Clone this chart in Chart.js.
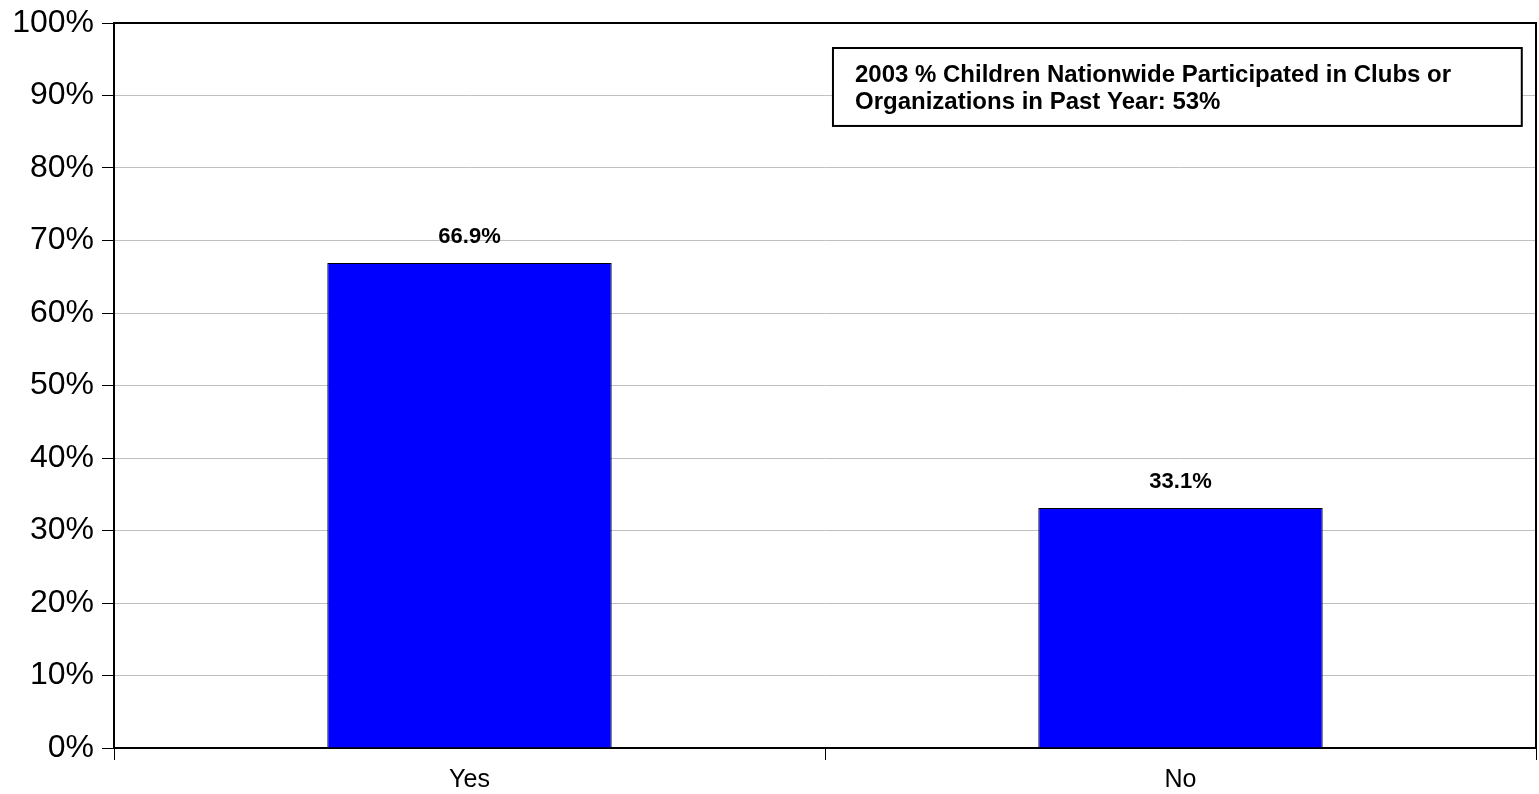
<!DOCTYPE html>
<html>
<head>
<meta charset="utf-8">
<script src="https://cdn.jsdelivr.net/npm/chart.js@4.4.0/dist/chart.umd.min.js"></script>
<style>
    html, body { margin: 0; padding: 0; background: #fff; }
    #caixa { width: 1539px; height: 794px; }
</style>
</head>
<body>
<div id="caixa"><canvas id="grafico"></canvas></div>
<script>
// dados
const categorias = ["Yes", "No"];
const valores = [66.9, 33.1];
const rotulos = ["66.9%", "33.1%"];
const notaLinhas = ["2003 % Children Nationwide Participated in Clubs or", "Organizations in Past Year: 53%"];

const fonte = "'Liberation Sans', Arial, sans-serif";

// rótulos acima das barras + caixa de nota + borda da área
const extras = {
    id: "extras",
    afterDatasetsDraw(chart) {
        const ctx = chart.ctx;
        const area = chart.chartArea;
        const barras = chart.getDatasetMeta(0).data;

        ctx.save();
        ctx.fillStyle = "#000";
        ctx.font = "bold 22px " + fonte;
        ctx.textAlign = "center";
        ctx.textBaseline = "bottom";
        barras.forEach((barra, i) => {
            ctx.fillText(rotulos[i], barra.x, barra.y - 15);
        });

        // borda superior e direita
        ctx.strokeStyle = "#000";
        ctx.lineWidth = 2;
        ctx.beginPath();
        ctx.moveTo(area.left, area.top);
        ctx.lineTo(area.right, area.top);
        ctx.lineTo(area.right, area.bottom);
        ctx.stroke();

        // caixa da nota
        const w = area.right - area.left;
        const h = area.bottom - area.top;
        const x0 = area.left + w * 0.5056;
        const x1 = area.left + w * 0.990;
        const y0 = area.top + h * 0.0345;
        const y1 = area.top + h * 0.142;
        ctx.fillStyle = "#fff";
        ctx.fillRect(x0, y0, x1 - x0, y1 - y0);
        ctx.lineWidth = 2;
        ctx.strokeRect(x0, y0, x1 - x0, y1 - y0);

        ctx.fillStyle = "#000";
        ctx.textAlign = "left";
        ctx.textBaseline = "alphabetic";
        ctx.font = "bold 24px " + fonte;
        ctx.fillText(notaLinhas[0], x0 + 22, y0 + 34);
        ctx.fillText(notaLinhas[1], x0 + 22, y0 + 61);
        ctx.restore();
    }
};

const config = {
    type: "bar",
    data: {
        labels: categorias,
        datasets: [{
            data: valores,
            backgroundColor: "#0000ff",
            borderColor: "#000",
            borderWidth: 1,
            categoryPercentage: 1,
            barPercentage: 0.4
        }]
    },
    options: {
        responsive: true,
        maintainAspectRatio: false,
        animation: false,
        layout: { padding: { top: 23, right: 3, left: 0, bottom: 0 } },
        plugins: {
            legend: { display: false },
            tooltip: { enabled: false }
        },
        scales: {
            x: {
                grid: {
                    drawOnChartArea: false,
                    drawTicks: true,
                    tickLength: 12,
                    tickColor: "#000",
                    tickWidth: 1
                },
                border: { color: "#000", width: 2 },
                ticks: {
                    color: "#000",
                    font: { family: fonte, size: 25 },
                    padding: 5
                },
                afterFit(scale) { scale.height = 46; }
            },
            y: {
                min: 0,
                max: 100,
                ticks: {
                    stepSize: 10,
                    color: "#000",
                    padding: 8,
                    font: { family: fonte, size: 32 },
                    callback: (v) => v + "%"
                },
                grid: {
                    color: (c) => (c.tick && c.tick.value === 100) ? "#000" : "#c0c0c0",
                    lineWidth: 1,
                    tickLength: 12,
                    tickColor: "#000",
                    tickWidth: 1
                },
                border: { color: "#000", width: 2 },
                afterFit(scale) {
                    scale.width = 114;
                    scale.paddingTop = 0;
                    scale.paddingBottom = 0;
                }
            }
        }
    },
    plugins: [extras]
};

new Chart(document.getElementById("grafico").getContext("2d"), config);
</script>
</body>
</html>
